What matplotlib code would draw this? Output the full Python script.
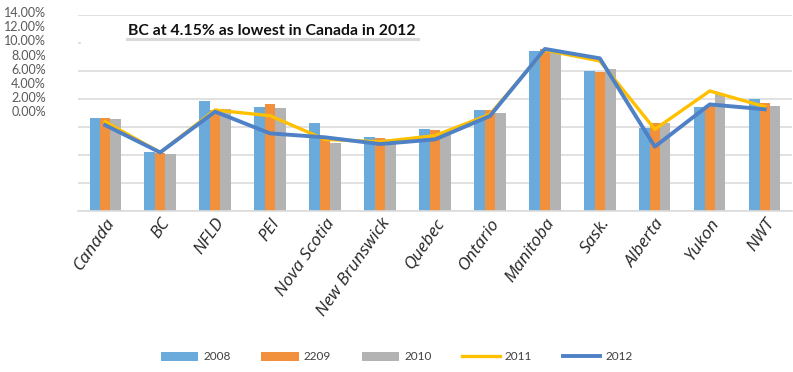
import numpy as np
import matplotlib
matplotlib.use("Agg")
import matplotlib.pyplot as plt
from matplotlib.patches import Rectangle

# provinces / territories
regions = ["Canada", "BC", "NFLD", "PEI", "Nova Scotia", "New Brunswick", "Quebec",
           "Ontario", "Manitoba", "Sask.", "Alberta", "Yukon", "NWT"]

# rates in percent
y2008 = [6.63, 4.20, 7.84, 7.42, 6.27, 5.27, 5.82, 7.18, 11.39, 9.96, 5.92, 7.39, 7.96]
y2209 = [6.63, 4.13, 7.18, 7.61, 5.27, 5.20, 5.74, 7.18, 11.54, 9.91, 6.25, 7.56, 7.68]
y2010 = [6.54, 4.04, 7.25, 7.35, 4.84, 5.08, 5.51, 6.96, 11.50, 10.11, 6.25, 8.30, 7.46]
y2011 = [6.34, 4.15, 7.18, 6.77, 5.08, 4.91, 5.35, 6.87, 11.46, 10.68, 5.80, 8.54, 7.42]
y2012 = [6.10, 4.15, 7.06, 5.51, 5.23, 4.75, 5.08, 6.75, 11.54, 10.87, 4.56, 7.58, 7.23]

ytick_vals = [0, 2, 4, 6, 8, 10, 12, 14]

c08 = "#6aabdc"
c09 = "#f2913d"
c10 = "#b3b3b3"
c11 = "#ffc000"
c12 = "#4f81c7"

fig = plt.figure(figsize=(7.93, 3.72), dpi=100)
ax = fig.add_axes([0.098, 0.434, 0.901, 0.527])

x = np.arange(len(regions))
w = 0.19
b1 = ax.bar(x - w, y2008, w, color=c08, label="2008", zorder=2)
b2 = ax.bar(x, y2209, w, color=c09, label="2209", zorder=2)
b3 = ax.bar(x + w, y2010, w, color=c10, label="2010", zorder=2)
l1, = ax.plot(x, y2011, color=c11, lw=2.4, label="2011", zorder=3)
l2, = ax.plot(x, y2012, color=c12, lw=2.8, label="2012", zorder=4)

ax.set_xlim(-0.5, len(regions) - 0.5)
ax.set_ylim(0, 14)
ax.set_yticks(ytick_vals)
ax.yaxis.grid(True, color="#dcdcdc", lw=1.2, zorder=0)
ax.set_axisbelow(True)
ax.tick_params(axis="y", length=0, labelleft=False)
ax.tick_params(axis="x", length=0)
for s in ["top", "right", "left"]:
    ax.spines[s].set_visible(False)
ax.spines["bottom"].set_color("#dcdcdc")
ax.spines["bottom"].set_linewidth(1.2)

ax.set_xticks(x)
ax.set_xticklabels(regions, rotation=55, ha="right", va="top",
                   rotation_mode="anchor", fontsize=12.5, style="italic",
                   family="Open Sans", color="#262626")

# white box hiding the 12% gridline behind the title
ax.add_patch(Rectangle((-0.44, 11.3), 13.0, 1.5, facecolor="white",
                       edgecolor="none", zorder=1))

# the y labels sit stacked at the top left, as in the source
for i, v in enumerate(ytick_vals[::-1]):
    fig.text(0.058, 1 - (13 + i * 14.2) / 372, "%.2f%%" % v, ha="right",
             va="center", fontsize=9, color="#595959", family="Lato")

fig.text(0.162, 1 - 31 / 372, "BC at 4.15% as lowest in Canada in 2012",
         fontsize=11.4, fontweight="bold", family="Lato", color="#111111",
         va="center", ha="left")
fig.add_artist(plt.Line2D([127 / 793, 418 / 793], [1 - 39 / 372, 1 - 39 / 372],
                          color="#d9d9d9", lw=2.2))

leg = fig.legend(handles=[b1, b2, b3, l1, l2], loc="center",
                 bbox_to_anchor=(0.5, 1 - 357 / 372), ncol=5,
                 frameon=False, handlelength=3.2,
                 handletextpad=0.4, columnspacing=2.6,
                 prop={"family": "Lato", "size": 8.5})
for t in leg.get_texts():
    t.set_color("#404040")

fig.savefig("out.png", dpi=100)
